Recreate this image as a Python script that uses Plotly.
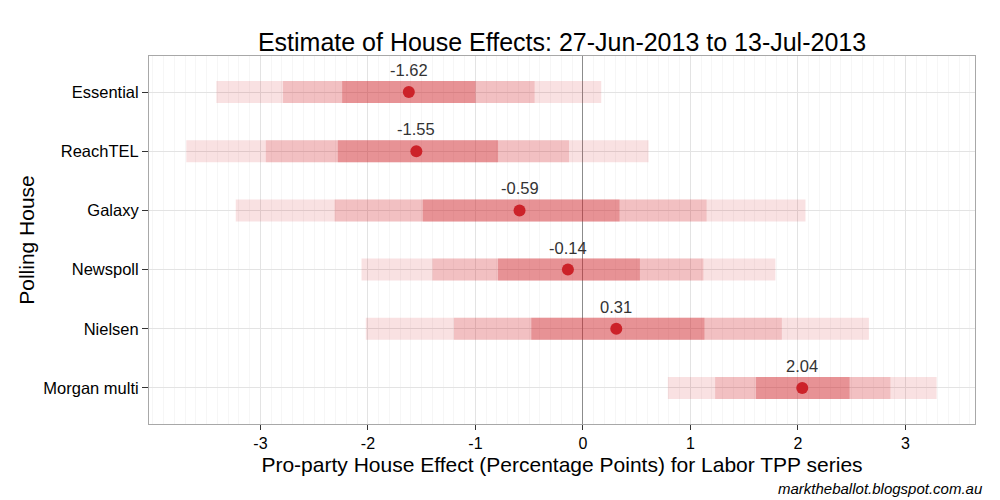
import plotly.graph_objects as go

houses = ["Essential", "ReachTEL", "Galaxy", "Newspoll", "Nielsen", "Morgan multi"]
effect = [-1.62, -1.55, -0.59, -0.14, 0.31, 2.04]
outer_low = [-3.41, -3.69, -3.23, -2.06, -2.02, 0.79]
outer_high = [0.17, 0.61, 2.07, 1.79, 2.66, 3.29]
mid_low = [-2.79, -2.95, -2.31, -1.40, -1.20, 1.23]
mid_high = [-0.45, -0.13, 1.15, 1.12, 1.85, 2.86]
inner_low = [-2.24, -2.28, -1.49, -0.79, -0.48, 1.61]
inner_high = [-1.00, -0.79, 0.34, 0.53, 1.13, 2.48]
x_ticks = [-3, -2, -1, 0, 1, 2, 3]

FONT = "Liberation Sans, Arial, Helvetica, sans-serif"

fig = go.Figure()

bands = [
    (outer_low, outer_high, "rgba(211,35,42,0.136)"),
    (mid_low, mid_high, "rgba(211,35,42,0.174)"),
    (inner_low, inner_high, "rgba(205,35,42,0.29)"),
]
for lo, hi, col in bands:
    fig.add_trace(go.Bar(
        orientation="h",
        y=houses,
        base=lo,
        x=[h - l for l, h in zip(lo, hi)],
        width=0.372,
        marker=dict(color=col, line=dict(width=0)),
        hoverinfo="skip",
        showlegend=False,
    ))

fig.add_trace(go.Scatter(
    x=effect,
    y=houses,
    mode="markers",
    marker=dict(size=12, color="#cc2229"),
    showlegend=False,
))

annotations = [
    dict(x=v, y=h, xref="x", yref="y", text=f"{v:.2f}", showarrow=False,
         yshift=22, xanchor="center", yanchor="middle",
         font=dict(size=16.5, color="#333333", family=FONT))
    for v, h in zip(effect, houses)
]
annotations.append(dict(
    text="<i>marktheballot.blogspot.com.au</i>",
    xref="paper", yref="paper",
    x=1.012, y=-0.174, xanchor="right", yanchor="middle",
    showarrow=False,
    font=dict(size=15, color="black", family=FONT),
))

fig.update_layout(
    width=1000,
    height=500,
    barmode="overlay",
    paper_bgcolor="white",
    plot_bgcolor="white",
    margin=dict(l=149, r=25, t=56, b=76),
    font=dict(family=FONT, color="black"),
    title=dict(
        text="Estimate of House Effects: 27-Jun-2013 to 13-Jul-2013",
        x=0.562, xanchor="center", xref="container",
        y=0.916, yanchor="middle", yref="container",
        font=dict(size=25, color="black"),
    ),
    xaxis=dict(
        range=[-4.037, 3.647],
        tickvals=x_ticks,
        ticktext=[str(t) for t in x_ticks],
        ticks="outside", ticklen=5, tickcolor="#333333",
        tickfont=dict(size=16, color="black"),
        showgrid=True, gridcolor="#e3e3e3", gridwidth=1,
        minor=dict(dtick=0.1, tick0=0, showgrid=True, gridcolor="#f6f6f6", gridwidth=1, ticks=""),
        zeroline=True, zerolinecolor="#8c8c8c", zerolinewidth=1,
        showline=True, linecolor="#a8a8a8", linewidth=1, mirror=True,
        title=dict(text="Pro-party House Effect (Percentage Points) for Labor TPP series",
                   font=dict(size=21, color="black"), standoff=6),
    ),
    yaxis=dict(
        type="category",
        categoryorder="array",
        categoryarray=houses,
        range=[5.61, -0.61],
        ticks="outside", ticklen=6, tickcolor="#333333",
        tickfont=dict(size=16.5, color="black"),
        showgrid=True, gridcolor="#e3e3e3", gridwidth=1,
        showline=True, linecolor="#a8a8a8", linewidth=1, mirror=True,
        title=dict(text="Polling House", font=dict(size=21, color="black"), standoff=2),
    ),
    annotations=annotations,
)

fig.write_html("out.html", config={"displayModeBar": False},
               post_script="document.body.style.margin='0';")
